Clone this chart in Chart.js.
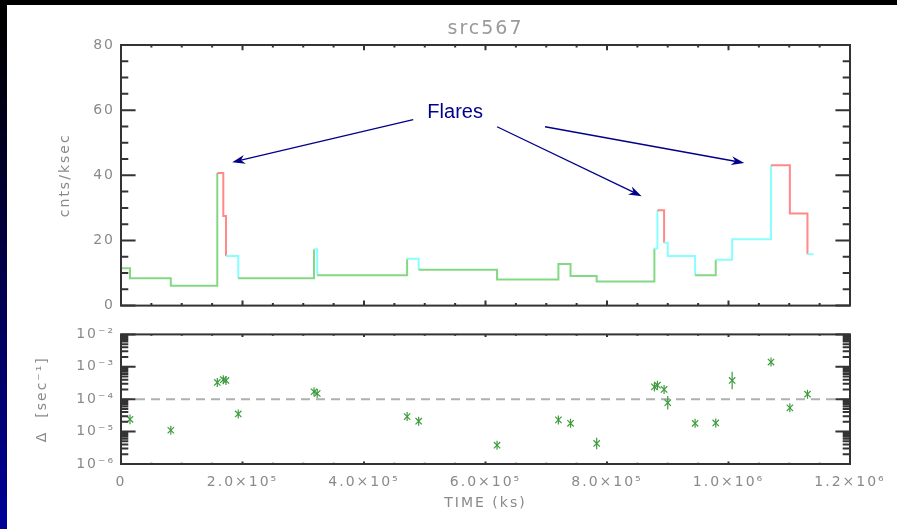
<!DOCTYPE html>
<html>
<head>
<meta charset="utf-8">
<script src="https://cdn.jsdelivr.net/npm/chart.js@4.4.1/dist/chart.umd.min.js"></script>
<style>
  html, body { margin: 0; padding: 0; background: #fff; width: 897px; height: 529px; overflow: hidden; position: relative; }
  .panel { position: absolute; left: 0; width: 897px; }
  #rateBox { top: 0; height: 320px; }
  #deltaBox { top: 320px; height: 209px; }
  #topBar { position: absolute; left: 0; top: 0; width: 897px; height: 5px; background: #000; }
  #sideBar { position: absolute; left: 0; top: 0; width: 7px; height: 529px;
             background: linear-gradient(to bottom, #000 0%, #000 6%, #00009a 100%); }
</style>
</head>
<body>
<div id="rateBox" class="panel"><canvas id="rateChart"></canvas></div>
<div id="deltaBox" class="panel"><canvas id="deltaChart"></canvas></div>
<div id="topBar"></div>
<div id="sideBar"></div>
<script>
// light curve bins: start time (ks), rate (cnts/ksec), state (g quiet, c raised, r flare)
const binStart = [0, 14.8e3, 82e3, 158.5e3, 168.4e3, 172.8e3, 193e3, 317.7e3, 323e3, 471e3,
  490e3, 619e3, 720e3, 740e3, 783e3, 878e3, 883e3, 894e3, 900e3, 945e3,
  979e3, 1006e3, 1070e3, 1101e3, 1130e3];
const binEnd = 1140e3;
const rate = [11.5, 8.4, 6.1, 40.7, 27.5, 15.2, 8.4, 17.3, 9.3, 14.4,
  11.0, 8.0, 12.8, 9.1, 7.4, 17.5, 29.3, 19.3, 15.2, 9.3,
  14.1, 20.4, 43.1, 28.3, 15.8];
const binState = ['g', 'g', 'g', 'r', 'r', 'c', 'g', 'c', 'g', 'c',
  'g', 'g', 'g', 'g', 'g', 'c', 'r', 'c', 'c', 'g',
  'c', 'c', 'r', 'r', 'c'];

// Delta at each change point (sec^-1) and its error in dex
const changeTime = binStart.slice(1);
const delta = [2.4e-5, 1.1e-5, 3.3e-4, 4.0e-4, 3.8e-4, 3.5e-5, 1.7e-4, 1.5e-4, 2.9e-5, 2.1e-5,
  3.8e-6, 2.3e-5, 1.8e-5, 4.3e-6, 2.4e-4, 2.7e-4, 2.0e-4, 7.8e-5, 1.8e-5, 1.85e-5,
  3.8e-4, 1.4e-3, 5.4e-5, 1.43e-4];
const deltaErrDex = [0.15, 0.1, 0.08, 0.12, 0.1, 0.08, 0.1, 0.1, 0.08, 0.1,
  0.1, 0.08, 0.1, 0.18, 0.1, 0.1, 0.1, 0.21, 0.08, 0.1,
  0.27, 0.08, 0.1, 0.1];
const deltaThreshold = 1e-4;

// ticks
const timeTicks = [0, 2e5, 4e5, 6e5, 8e5, 1e6, 1.2e6];
const timeTickLabels = ['0', '2.0×10⁵', '4.0×10⁵', '6.0×10⁵', '8.0×10⁵', '1.0×10⁶', '1.2×10⁶'];
const rateTicks = [0, 20, 40, 60, 80];
const deltaTicks = [1e-6, 1e-5, 1e-4, 1e-3, 1e-2];
const deltaTickLabels = ['10⁻⁶', '10⁻⁵', '10⁻⁴', '10⁻³', '10⁻²'];

const stateColor = { g: '#84d884', c: '#88ffff', r: '#ff8888' };

Chart.defaults.font.family = '"DejaVu Sans", sans-serif';
Chart.defaults.font.size = 14;
Chart.defaults.color = '#8a8a8a';
Chart.defaults.animation = false;

// IDL style box with inward ticks on all four sides
const frameTicks = {
  id: 'frameTicks',
  beforeDraw(chart) { chart.ctx.letterSpacing = '2px'; },
  afterDatasetsDraw(chart, args, opts) {
    const { ctx, chartArea: a } = chart;
    const xs = chart.scales.x, ys = chart.scales.y;
    const w = a.right - a.left, h = a.bottom - a.top;
    const xLen = opts.tickLen * h, yLen = opts.tickLen * w;
    ctx.save();
    ctx.strokeStyle = opts.color;
    ctx.lineWidth = opts.width;
    ctx.beginPath();

    const xMajor = xs.ticks.map(t => t.value);
    for (let v = xs.min; v <= xs.max + 1e-6; v += opts.xMinor) {
      const len = xMajor.some(m => Math.abs(m - v) < opts.xMinor * 1e-3) ? xLen : xLen / 2;
      const px = xs.getPixelForValue(v);
      ctx.moveTo(px, a.bottom); ctx.lineTo(px, a.bottom - len);
      ctx.moveTo(px, a.top); ctx.lineTo(px, a.top + len);
    }

    const yMajor = ys.ticks.map(t => t.value);
    const yAll = [];
    if (ys.type === 'logarithmic') {
      for (let e = Math.round(Math.log10(ys.min)); e < Math.round(Math.log10(ys.max)); e++) {
        for (let m = 1; m < 10; m++) yAll.push(m * Math.pow(10, e));
      }
      yAll.push(ys.max);
    } else {
      for (let v = ys.min; v <= ys.max + 1e-6; v += opts.yMinor) yAll.push(v);
    }
    yAll.forEach(v => {
      const major = yMajor.some(m => Math.abs(m - v) <= Math.abs(m) * 1e-6 + 1e-12);
      const len = major ? yLen : yLen / 2;
      const py = ys.getPixelForValue(v);
      ctx.moveTo(a.left, py); ctx.lineTo(a.left + len, py);
      ctx.moveTo(a.right, py); ctx.lineTo(a.right - len, py);
    });
    ctx.stroke();
    ctx.strokeRect(a.left, a.top, w, h);
    ctx.restore();
  }
};

// vertical error bars for the Delta points
const errorBars = {
  id: 'errorBars',
  afterDatasetsDraw(chart, args, opts) {
    const { ctx } = chart;
    const ys = chart.scales.y;
    const meta = chart.getDatasetMeta(0);
    ctx.save();
    ctx.strokeStyle = opts.color;
    ctx.lineWidth = opts.width;
    ctx.beginPath();
    meta.data.forEach((pt, i) => {
      const f = Math.pow(10, deltaErrDex[i]);
      const top = Math.min(ys.getPixelForValue(delta[i] * f), pt.y - opts.minHalf);
      const bot = Math.max(ys.getPixelForValue(delta[i] / f), pt.y + opts.minHalf);
      ctx.moveTo(pt.x, top); ctx.lineTo(pt.x, bot);
    });
    ctx.stroke();
    ctx.restore();
  }
};

// "Flares" note with arrows, anchored in data coordinates
const flareNotes = {
  id: 'flareNotes',
  afterDraw(chart, args, opts) {
    const { ctx } = chart;
    const xs = chart.scales.x, ys = chart.scales.y;
    ctx.save();
    ctx.letterSpacing = '0px';
    ctx.strokeStyle = opts.color;
    ctx.fillStyle = opts.color;
    ctx.lineWidth = 1.3;
    opts.arrows.forEach(([x1, y1, x2, y2]) => {
      const ax = xs.getPixelForValue(x1), ay = ys.getPixelForValue(y1);
      const bx = xs.getPixelForValue(x2), by = ys.getPixelForValue(y2);
      const ang = Math.atan2(by - ay, bx - ax);
      const c = Math.cos(ang), s = Math.sin(ang);
      ctx.beginPath();
      ctx.moveTo(ax, ay);
      ctx.lineTo(bx - 8 * c, by - 8 * s);
      ctx.stroke();
      ctx.beginPath();
      ctx.moveTo(bx, by);
      ctx.lineTo(bx - 13 * c + 4.5 * s, by - 13 * s - 4.5 * c);
      ctx.lineTo(bx - 9 * c, by - 9 * s);
      ctx.lineTo(bx - 13 * c - 4.5 * s, by - 13 * s + 4.5 * c);
      ctx.closePath();
      ctx.fill();
    });
    ctx.font = opts.font;
    ctx.textAlign = 'center';
    ctx.textBaseline = 'alphabetic';
    ctx.fillText(opts.text, xs.getPixelForValue(opts.at[0]), ys.getPixelForValue(opts.at[1]));
    ctx.restore();
  }
};

const lightCurve = binStart.map((t, i) => ({ x: t, y: rate[i] }));
lightCurve.push({ x: binEnd, y: rate[rate.length - 1] });

new Chart(document.getElementById('rateChart'), {
  type: 'line',
  data: {
    datasets: [{
      data: lightCurve,
      stepped: true,
      borderWidth: 2,
      pointRadius: 0,
      fill: false,
      borderColor: stateColor.g,
      segment: { borderColor: c => stateColor[binState[c.p0DataIndex]] }
    }]
  },
  options: {
    responsive: true,
    maintainAspectRatio: false,
    events: [],
    layout: { padding: { left: 0, top: 0, right: 47, bottom: 13.5 } },
    plugins: {
      legend: { display: false },
      tooltip: { enabled: false },
      title: {
        display: true, text: 'src567', color: '#9a9a9a', fullSize: false,
        font: { size: 19, weight: 'normal' }, padding: { top: 18, bottom: 4.2 }
      },
      frameTicks: { color: '#333', width: 2, tickLen: 0.02, xMinor: 5e4, yMinor: 5 },
      flareNotes: {
        color: '#00008c',
        font: '20px "Liberation Sans", Arial, sans-serif',
        text: 'Flares',
        at: [5.5e5, 57.7],
        arrows: [
          [4.81e5, 57.1, 1.83e5, 44.0],
          [6.19e5, 54.9, 8.57e5, 33.6],
          [6.98e5, 54.9, 10.26e5, 43.8]
        ]
      }
    },
    scales: {
      x: {
        type: 'linear', display: false, min: 0, max: 1.2e6,
        afterBuildTicks: s => { s.ticks = timeTicks.map(v => ({ value: v })); }
      },
      y: {
        type: 'linear', min: 0, max: 80,
        afterBuildTicks: s => { s.ticks = rateTicks.map(v => ({ value: v })); },
        ticks: { padding: 6, autoSkip: false, callback: v => String(v) },
        grid: { display: false, drawTicks: false },
        border: { display: false },
        title: { display: true, text: 'cnts/ksec', padding: { top: 56.6, bottom: 0 } },
        afterFit: s => { s.width = 121; }
      }
    }
  },
  plugins: [frameTicks, flareNotes]
});

new Chart(document.getElementById('deltaChart'), {
  type: 'line',
  data: {
    datasets: [
      {
        data: changeTime.map((t, i) => ({ x: t, y: delta[i] })),
        showLine: false,
        pointStyle: 'crossRot',
        pointRadius: 4.5,
        borderWidth: 1.2,
        borderColor: '#3d9c3d',
        backgroundColor: 'transparent'
      },
      {
        data: [{ x: 0, y: deltaThreshold }, { x: 1.2e6, y: deltaThreshold }],
        borderColor: '#b0b0b0',
        borderDash: [9, 6],
        borderWidth: 2,
        pointRadius: 0,
        fill: false
      }
    ]
  },
  options: {
    responsive: true,
    maintainAspectRatio: false,
    events: [],
    layout: { padding: { left: 0, top: 14, right: 47, bottom: 0 } },
    plugins: {
      legend: { display: false },
      tooltip: { enabled: false },
      frameTicks: { color: '#333', width: 2, tickLen: 0.02, xMinor: 5e4 },
      errorBars: { color: '#3d9c3d', width: 1.2, minHalf: 4.5 }
    },
    scales: {
      x: {
        type: 'linear', min: 0, max: 1.2e6,
        afterBuildTicks: s => { s.ticks = timeTicks.map(v => ({ value: v })); },
        ticks: { padding: 10, autoSkip: false, maxRotation: 0, callback: (v, i) => timeTickLabels[i] },
        grid: { display: false, drawTicks: false },
        border: { display: false },
        title: { display: true, text: 'TIME (ks)', padding: { top: 0, bottom: 17.6 } },
        afterFit: s => { s.height = 65; }
      },
      y: {
        type: 'logarithmic', min: 1e-6, max: 1e-2,
        afterBuildTicks: s => { s.ticks = deltaTicks.map(v => ({ value: v })); },
        ticks: { padding: 6, autoSkip: false, callback: (v, i) => deltaTickLabels[i] },
        grid: { display: false, drawTicks: false },
        border: { display: false },
        title: { display: true, text: 'Δ  [sec⁻¹]', padding: { top: 33.6, bottom: 0 } },
        afterFit: s => { s.width = 121; }
      }
    }
  },
  plugins: [frameTicks, errorBars]
});
</script>
</body>
</html>
